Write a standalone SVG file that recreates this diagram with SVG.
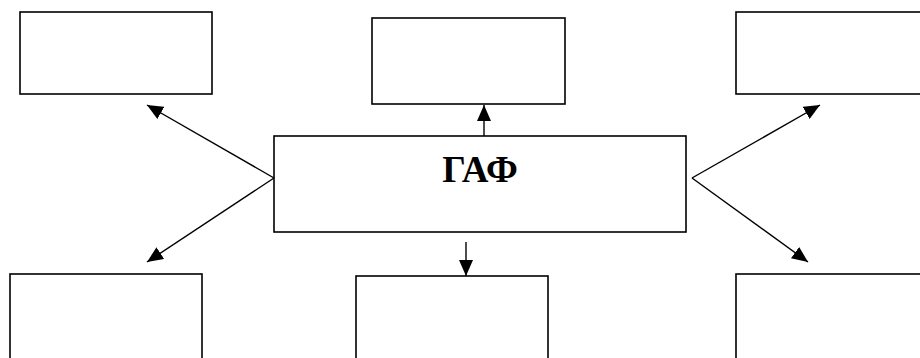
<svg xmlns="http://www.w3.org/2000/svg" width="920" height="358" viewBox="0 0 920 358">
<style>
.box{fill:#fff;stroke:#000;stroke-width:1.6}
.con{fill:none;stroke:#000;stroke-width:1.4}
.lbl{font-family:"Liberation Serif","Times New Roman",serif;font-weight:bold;font-size:37px;fill:#000;text-anchor:middle}
</style>
<defs>
<marker id="ah" viewBox="0 0 16 14" refX="16" refY="7" markerWidth="16" markerHeight="14" markerUnits="userSpaceOnUse" orient="auto">
<path d="M0,0 L16,7 L0,14 Z" fill="#000"/>
</marker>
</defs>
<g id="n-top-left"><rect class="box" x="20" y="12" width="192" height="82"/></g>
<g id="n-top-mid"><rect class="box" x="372" y="18" width="193" height="86"/></g>
<g id="n-top-right"><rect class="box" x="736" y="12" width="200" height="82"/></g>
<g id="n-center"><rect class="box" x="274" y="136" width="412" height="96"/><text class="lbl" x="480" y="182">ГАФ</text></g>
<g id="n-bot-left"><rect class="box" x="10" y="274" width="192" height="100"/></g>
<g id="n-bot-mid"><rect class="box" x="356" y="276" width="192" height="100"/></g>
<g id="n-bot-right"><rect class="box" x="736" y="274" width="200" height="100"/></g>
<g id="connectors">
<line class="con" x1="274" y1="178" x2="147" y2="105" marker-end="url(#ah)"/>
<line class="con" x1="274" y1="178" x2="147" y2="262" marker-end="url(#ah)"/>
<line class="con" x1="484" y1="136" x2="484" y2="105" marker-end="url(#ah)"/>
<line class="con" x1="466" y1="242" x2="466" y2="276" marker-end="url(#ah)"/>
<line class="con" x1="692" y1="178" x2="820" y2="105" marker-end="url(#ah)"/>
<line class="con" x1="692" y1="178" x2="808" y2="262" marker-end="url(#ah)"/>
</g>
</svg>
